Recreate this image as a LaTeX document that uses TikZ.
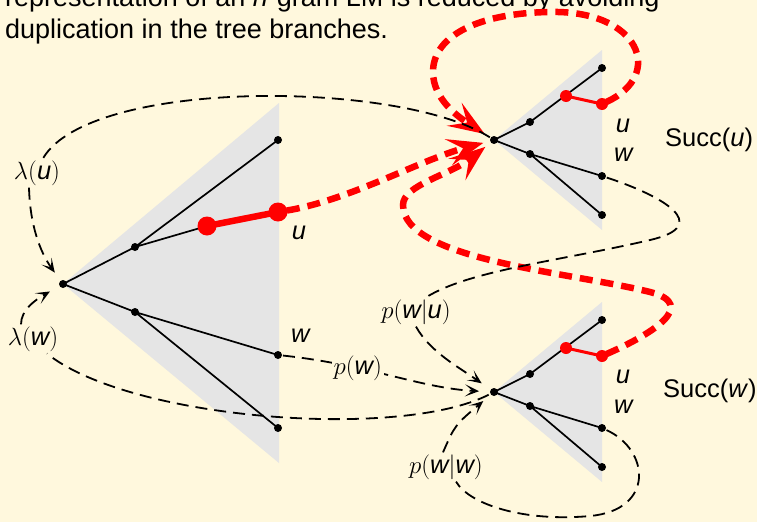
\documentclass[tikz,border=0pt]{standalone}
\usepackage{fontspec}
\setmainfont{Liberation Sans}
\usetikzlibrary{arrows.meta}

\definecolor{pagebg}{RGB}{255,248,221}
\definecolor{treeshade}{RGB}{229,229,229}
\definecolor{pathred}{RGB}{255,0,0}

\newcommand\tkCapFont{\fontsize{27}{33}\selectfont}
\newcommand\tkLabFont{\fontsize{25.5}{30}\selectfont}

\tikzset{
  edge/.style={line width=1.7pt},
  bdash/.style={line width=1.8pt, dash pattern=on 12pt off 7pt},
  barrow/.style={-{Stealth[length=14pt,width=12pt,inset=7.5pt]}},
  reddash/.style={pathred, line width=6.5pt, dash pattern=on 13pt off 8pt},
  redarrow/.style={-{Stealth[length=36pt,width=27pt,inset=15pt]}},
  lbl/.style={font=\tkLabFont, inner sep=2pt},
  leaflbl/.style={font=\tkLabFont, inner sep=0pt, anchor=base},
}

\begin{document}
\begin{tikzpicture}[x=1pt,y=-1pt]
% page
\fill[pagebg] (0,0) rectangle (757,522);
\useasboundingbox (0,0) rectangle (757,522);

% caption
\node[anchor=base west, inner sep=0pt, font=\tkCapFont] (cap1) at (5,6)
  {representation of an \textit{n}-gram LM is reduced by avoiding};
\node[anchor=base west, inner sep=0pt, font=\tkCapFont] (cap2) at (5,38)
  {duplication in the tree branches.};

% ---------- tree positions ----------
% big tree
\coordinate (r1)  at (63,284);
\coordinate (a1)  at (135,247);
\coordinate (b1)  at (135,312);
\coordinate (l11) at (278,140);
\coordinate (s1)  at (207,226);
\coordinate (l1u) at (278,212);
\coordinate (l1w) at (278,355);
\coordinate (l14) at (278,428);
% Succ(u)
\coordinate (r2)  at (494,140);
\coordinate (a2)  at (530,122);
\coordinate (b2)  at (530,154);
\coordinate (l21) at (602,68);
\coordinate (s2)  at (566,96);
\coordinate (l2u) at (602,104);
\coordinate (l2w) at (602,176);
\coordinate (l24) at (602,215);
% Succ(w)
\coordinate (r3)  at (494,392);
\coordinate (a3)  at (530,374);
\coordinate (b3)  at (530,406);
\coordinate (l31) at (602,320);
\coordinate (s3)  at (566,348);
\coordinate (l3u) at (602,356);
\coordinate (l3w) at (602,428);
\coordinate (l34) at (602,467);

% shaded fans
\fill[treeshade] (r1) -- (279,103) -- (279,463) -- cycle;
\fill[treeshade] (r2) -- (602,50) -- (602,230) -- cycle;
\fill[treeshade] (r3) -- (602,302) -- (602,482) -- cycle;

% branches
\draw[edge] (r1) -- (a1) (r1) -- (b1) (a1) -- (l11) (a1) -- (s1)
            (b1) -- (l1w) (b1) -- (l14);
\draw[edge] (r2) -- (a2) (r2) -- (b2) (a2) -- (l21)
            (b2) -- (l2w) (b2) -- (l24);
\draw[edge] (r3) -- (a3) (r3) -- (b3) (a3) -- (l31)
            (b3) -- (l3w) (b3) -- (l34);
\draw[pathred, line width=6.5pt] (s1) -- (l1u);
\draw[pathred, line width=3pt] (s2) -- (l2u);
\draw[pathred, line width=3pt] (s3) -- (l3u);

% leaf words
\node[leaflbl] (t1u) at (299,239) {\textit{u}};
\node[leaflbl] (t1w) at (301,342) {\textit{w}};
\node[leaflbl] (t2u) at (623,132) {\textit{u}};
\node[leaflbl] (t2w) at (624,161) {\textit{w}};
\node[leaflbl] (t3u) at (623,383) {\textit{u}};
\node[leaflbl] (t3w) at (624,413) {\textit{w}};
\node[anchor=base west, inner sep=0pt, font=\tkLabFont] (succu) at (665,146) {Succ(\textit{u})};
\node[anchor=base west, inner sep=0pt, font=\tkLabFont] (succw) at (663,397) {Succ(\textit{w})};

% red shared-successor links
\draw[reddash, redarrow, shorten <=9pt, shorten >=11pt]
  (l1u) .. controls (350,200) and (420,160) .. (r2);
\draw[reddash, redarrow, shorten <=5pt, shorten >=11pt]
  (l2u) .. controls (665,75) and (640,10) .. (550,12)
        .. controls (480,13) and (433,35) .. (433,72)
        .. controls (433,100) and (460,118) .. (r2);
\draw[reddash, redarrow, shorten <=5pt, shorten >=11pt]
  (l3u) .. controls (650,335) and (700,305) .. (650,292)
        .. controls (570,272) and (403,260) .. (403,205)
        .. controls (403,185) and (450,175) .. (r2);

% backoff weights
\node[lbl] (lu) at (37,173) {$\lambda(\textit{u})$};
\draw[bdash, shorten <=5pt]
  (r2) .. controls (400,80) and (90,78) .. ([xshift=6pt]lu.north);
\draw[bdash, barrow, shorten >=14pt]
  ([xshift=-8pt]lu.south) .. controls (30,225) and (40,252) .. (r1);

\node[lbl] (lw) at (33,339) {$\lambda(\textit{w})$};
\draw[bdash, shorten <=6pt]
  (r3) .. controls (400,440) and (130,420) .. ([xshift=14pt]lw.south);
\draw[bdash, barrow, shorten >=15pt]
  ([xshift=-12pt]lw.north) .. controls (21,310) and (35,300) .. (r1);

% probabilities
\draw[bdash, barrow, shorten <=5pt, shorten >=15pt]
  (l1w) .. controls (370,365) and (420,388) .. (r3)
  node[pos=0.33, lbl, fill=pagebg] (pw) {$p(\textit{w})$};

\node[lbl] (pwu) at (416,312) {$p(\textit{w}|\textit{u})$};
\draw[bdash, shorten <=5pt]
  (l2w) .. controls (660,195) and (715,225) .. (650,240)
        .. controls (560,261) and (470,270) .. ([xshift=10pt]pwu.north);
\draw[bdash, barrow, shorten >=15pt]
  (pwu.south) .. controls (430,352) and (460,368) .. (r3);

\node[lbl] (pww) at (446,467) {$p(\textit{w}|\textit{w})$};
\draw[bdash, shorten <=5pt]
  (l3w) .. controls (650,450) and (655,510) .. (590,516)
        .. controls (525,522) and (470,505) .. ([xshift=10pt]pww.south);
\draw[bdash, barrow, shorten >=14pt]
  ([xshift=-3pt]pww.north) .. controls (455,425) .. (r3);

% tree vertices
\foreach \p in {r1,a1,b1,l11,l1w,l14,r2,a2,b2,l21,l2w,l24,r3,a3,b3,l31,l3w,l34}
  \fill (\p) circle (4pt);
\fill[pathred] (s1) circle (9.5pt) (l1u) circle (9.5pt);
\fill[pathred] (s2) circle (6pt) (l2u) circle (6pt);
\fill[pathred] (s3) circle (6pt) (l3u) circle (6pt);
\end{tikzpicture}
\end{document}
